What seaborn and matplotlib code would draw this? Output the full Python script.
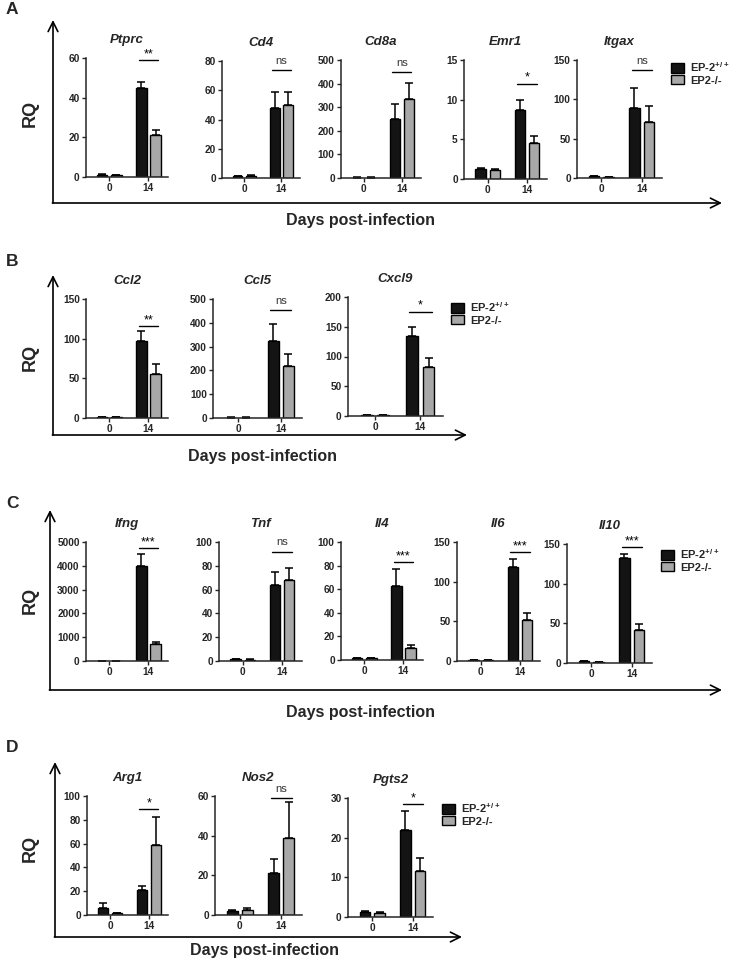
import numpy as np
import pandas as pd
import matplotlib
matplotlib.use("Agg")
import matplotlib.pyplot as plt
from matplotlib.patches import Patch
import seaborn as sns

sns.set_style("ticks")
plt.rcParams['font.family'] = ['Liberation Sans', 'DejaVu Sans']
plt.rcParams['mathtext.fontset'] = 'custom'
plt.rcParams['mathtext.bf'] = 'Liberation Sans:bold'
plt.rcParams['mathtext.rm'] = 'Liberation Sans'

# ---------------- DATA ----------------
days = ["0", "14"]
genotypes = ["EP-2+/+", "EP2-/-"]
legend_labels = [r"EP-2$^{\mathbf{+/+}}$", "EP2-/-"]

# Panel A
genes_A = ["Ptprc", "Cd4", "Cd8a", "Emr1", "Itgax"]
wt0_A = [1.2, 1.2, 2, 1.2, 2]
ko0_A = [1.0, 1.5, 2, 1.1, 1.5]
wt14_A = [45, 48, 252, 8.7, 89]
ko14_A = [21, 50, 335, 4.6, 71]
wt0e_A = [0.3, 0.3, 1, 0.15, 0.5]
ko0e_A = [0.2, 0.4, 1, 0.15, 0.4]
wt14e_A = [3, 11, 62, 1.3, 25]
ko14e_A = [2.7, 9, 66, 0.8, 20]
ymax_A = [60, 80, 500, 15, 150]
ystep_A = [20, 20, 100, 5, 50]
sig_A = ["**", "ns", "ns", "*", "ns"]
sigy_A = [59, 74, 449, 12, 137]

# Panel B
genes_B = ["Ccl2", "Ccl5", "Cxcl9"]
wt0_B = [1, 2, 1]
ko0_B = [1, 2, 1]
wt14_B = [97, 322, 134]
ko14_B = [55, 220, 82]
wt0e_B = [0.3, 0.5, 0.3]
ko0e_B = [0.3, 0.5, 0.3]
wt14e_B = [13, 73, 15]
ko14e_B = [13, 50, 15]
ymax_B = [150, 500, 200]
ystep_B = [50, 100, 50]
sig_B = ["**", "ns", "*"]
sigy_B = [116, 454, 175]

# Panel C
genes_C = ["Ifng", "Tnf", "Il4", "Il6", "Il10"]
wt0_C = [5, 1.5, 1.5, 1, 2]
ko0_C = [5, 1.2, 1.5, 1, 1.5]
wt14_C = [4000, 64, 63, 119, 132]
ko14_C = [700, 68, 10, 52, 42]
wt0e_C = [1, 0.3, 0.3, 0.2, 0.4]
ko0e_C = [1, 0.3, 0.3, 0.2, 0.3]
wt14e_C = [500, 11, 14, 10, 6]
ko14e_C = [80, 10, 3, 9, 7]
ymax_C = [5000, 100, 100, 150, 150]
ystep_C = [1000, 20, 20, 50, 50]
sig_C = ["***", "ns", "***", "***", "***"]
sigy_C = [4748, 92, 83, 137, 146]

# Panel D
genes_D = ["Arg1", "Nos2", "Pgts2"]
wt0_D = [6, 2, 1.2]
ko0_D = [1.5, 2.5, 1.1]
wt14_D = [21, 21, 22]
ko14_D = [59, 39, 11.6]
wt0e_D = [4, 0.5, 0.2]
ko0e_D = [0.3, 1, 0.2]
wt14e_D = [3, 7, 4.8]
ko14e_D = [23, 18, 3.4]
ymax_D = [100, 60, 30]
ystep_D = [20, 20, 10]
sig_D = ["*", "ns", "*"]
sigy_D = [89, 59, 28.5]

# ---------------- LAYOUT (pixels: left, top, right, bottom) ----------------
W, H = 730, 961
boxes_A = [(86, 58, 168, 177), (222, 61, 300, 178), (341, 60, 421, 178),
           (464, 60, 547, 179), (577, 60, 662, 178)]
boxes_B = [(86, 299, 168, 418), (213, 299, 302, 418), (348, 297, 443, 416)]
boxes_C = [(86, 542, 168, 661), (219, 542, 302, 661), (341, 542, 423, 660),
           (457, 542, 540, 661), (567, 544, 652, 663)]
boxes_D = [(87, 796, 168, 915), (215, 796, 302, 915), (348, 798, 433, 917)]

panel_frames = {
    "A": dict(x=53, top=20, bottom=203, right=722, days=(360, 220), rq=113, let=10),
    "B": dict(x=53, top=275, bottom=435, right=467, days=(262, 457), rq=357, let=262),
    "C": dict(x=50, top=510, bottom=690, right=722, days=(360, 712), rq=600, let=503),
    "D": dict(x=55, top=762, bottom=937, right=462, days=(264, 950), rq=848, let=748),
}
legend_pos = {"A": (671, 60), "B": (451, 300), "C": (661, 547), "D": (442, 801)}

palette = {genotypes[0]: "#141414", genotypes[1]: "#a8a8a8"}

fig = plt.figure(figsize=(W / 100, H / 100), dpi=100)

ov = fig.add_axes([0, 0, 1, 1])
ov.set_xlim(0, W)
ov.set_ylim(H, 0)
ov.axis("off")


def px_axes(box):
    l, t, r, b = box
    return fig.add_axes([l / W, 1 - b / H, (r - l) / W, (b - t) / H])


def draw_gene(box, gene, wt0, ko0, wt14, ko14, e_wt0, e_ko0, e_wt14, e_ko14,
              ymax, ystep, sig, sigy):
    ax = px_axes(box)
    df = pd.DataFrame({
        "day": [days[0], days[1], days[0], days[1]],
        "geno": [genotypes[0], genotypes[0], genotypes[1], genotypes[1]],
        "val": [wt0, wt14, ko0, ko14],
    })
    errs = {(days[0], genotypes[0]): e_wt0, (days[1], genotypes[0]): e_wt14,
            (days[0], genotypes[1]): e_ko0, (days[1], genotypes[1]): e_ko14}
    sns.barplot(data=df, x="day", y="val", hue="geno", order=days,
                hue_order=genotypes, palette=palette, width=0.72, gap=0.28,
                edgecolor="black", linewidth=1.0, errorbar=None, legend=False,
                ax=ax)
    bars = sorted(list(ax.patches), key=lambda p: p.get_x())
    keys = [(days[0], genotypes[0]), (days[0], genotypes[1]),
            (days[1], genotypes[0]), (days[1], genotypes[1])]
    for p, k in zip(bars, keys):
        cx = p.get_x() + p.get_width() / 2
        h = p.get_height()
        ax.errorbar([cx], [h], yerr=[[0], [errs[k]]], fmt="none",
                    ecolor="black", elinewidth=1.1, capsize=2.6,
                    capthick=1.1, zorder=1)
    ax.set_xlim(-0.6, 1.5)
    ax.set_ylim(0, ymax)
    ax.set_yticks(np.arange(0, ymax + ystep * 0.5, ystep))
    ax.set_xlabel("")
    ax.set_ylabel("")
    sns.despine(ax=ax)
    for s in ["left", "bottom"]:
        ax.spines[s].set_linewidth(1.1)
    ax.tick_params(axis="both", direction="out", length=3, width=1.0,
                   labelsize=7.3, pad=1.5)
    for lab in ax.get_xticklabels() + ax.get_yticklabels():
        lab.set_fontweight("bold")
    ax.set_title(gene, fontsize=9.5, fontweight="bold", fontstyle="italic", pad=11)
    ax.patch.set_alpha(0)
    # significance
    ax.plot([0.75, 1.25], [sigy, sigy], color="black", lw=1.0, clip_on=False)
    if sig == "ns":
        ax.text(1.0, sigy + ymax * 0.035, sig, ha="center", va="bottom",
                fontsize=8, color="#333333", clip_on=False)
    else:
        ax.text(1.0, sigy, sig, ha="center", va="bottom",
                fontsize=9, color="black", clip_on=False)
    return ax


def draw_panel(letter, boxes, genes, wt0, ko0, wt14, ko14, wt0e, ko0e,
               wt14e, ko14e, ymax, ystep, sig, sigy):
    for i, g in enumerate(genes):
        draw_gene(boxes[i], g, wt0[i], ko0[i], wt14[i], ko14[i], wt0e[i],
                  ko0e[i], wt14e[i], ko14e[i], ymax[i], ystep[i], sig[i],
                  sigy[i])
    f = panel_frames[letter]
    ap = dict(arrowstyle="->,head_length=0.7,head_width=0.35", lw=1.2,
              color="black", shrinkA=0, shrinkB=0)
    ov.annotate("", xy=(f["x"], f["top"]), xytext=(f["x"], f["bottom"]),
                arrowprops=ap)
    ov.annotate("", xy=(f["right"], f["bottom"]), xytext=(f["x"] - 0.6, f["bottom"]),
                arrowprops=ap)
    ov.text(f["days"][0], f["days"][1], "Days post-infection", ha="center",
            va="center", fontsize=11.5, fontweight="bold")
    ov.text(30, f["rq"], "RQ", ha="center", va="center", rotation=90,
            fontsize=13, fontweight="bold")
    ov.text(6, f["let"], letter, ha="left", va="center", fontsize=12.5,
            fontweight="bold")
    lx, ly = legend_pos[letter]
    handles = [Patch(facecolor=palette[g], edgecolor="black", linewidth=1.0)
               for g in genotypes]
    fig.legend(handles, legend_labels, loc="upper left",
               bbox_to_anchor=(lx / W, 1 - ly / H), frameon=False,
               borderpad=0, borderaxespad=0, handlelength=1.2,
               handleheight=0.9, handletextpad=0.5, labelspacing=0.12,
               prop=dict(weight="bold", size=8))


draw_panel("A", boxes_A, genes_A, wt0_A, ko0_A, wt14_A, ko14_A, wt0e_A,
           ko0e_A, wt14e_A, ko14e_A, ymax_A, ystep_A, sig_A, sigy_A)
draw_panel("B", boxes_B, genes_B, wt0_B, ko0_B, wt14_B, ko14_B, wt0e_B,
           ko0e_B, wt14e_B, ko14e_B, ymax_B, ystep_B, sig_B, sigy_B)
draw_panel("C", boxes_C, genes_C, wt0_C, ko0_C, wt14_C, ko14_C, wt0e_C,
           ko0e_C, wt14e_C, ko14e_C, ymax_C, ystep_C, sig_C, sigy_C)
draw_panel("D", boxes_D, genes_D, wt0_D, ko0_D, wt14_D, ko14_D, wt0e_D,
           ko0e_D, wt14e_D, ko14e_D, ymax_D, ystep_D, sig_D, sigy_D)

fig.savefig("out.png", dpi=100, facecolor="white")
